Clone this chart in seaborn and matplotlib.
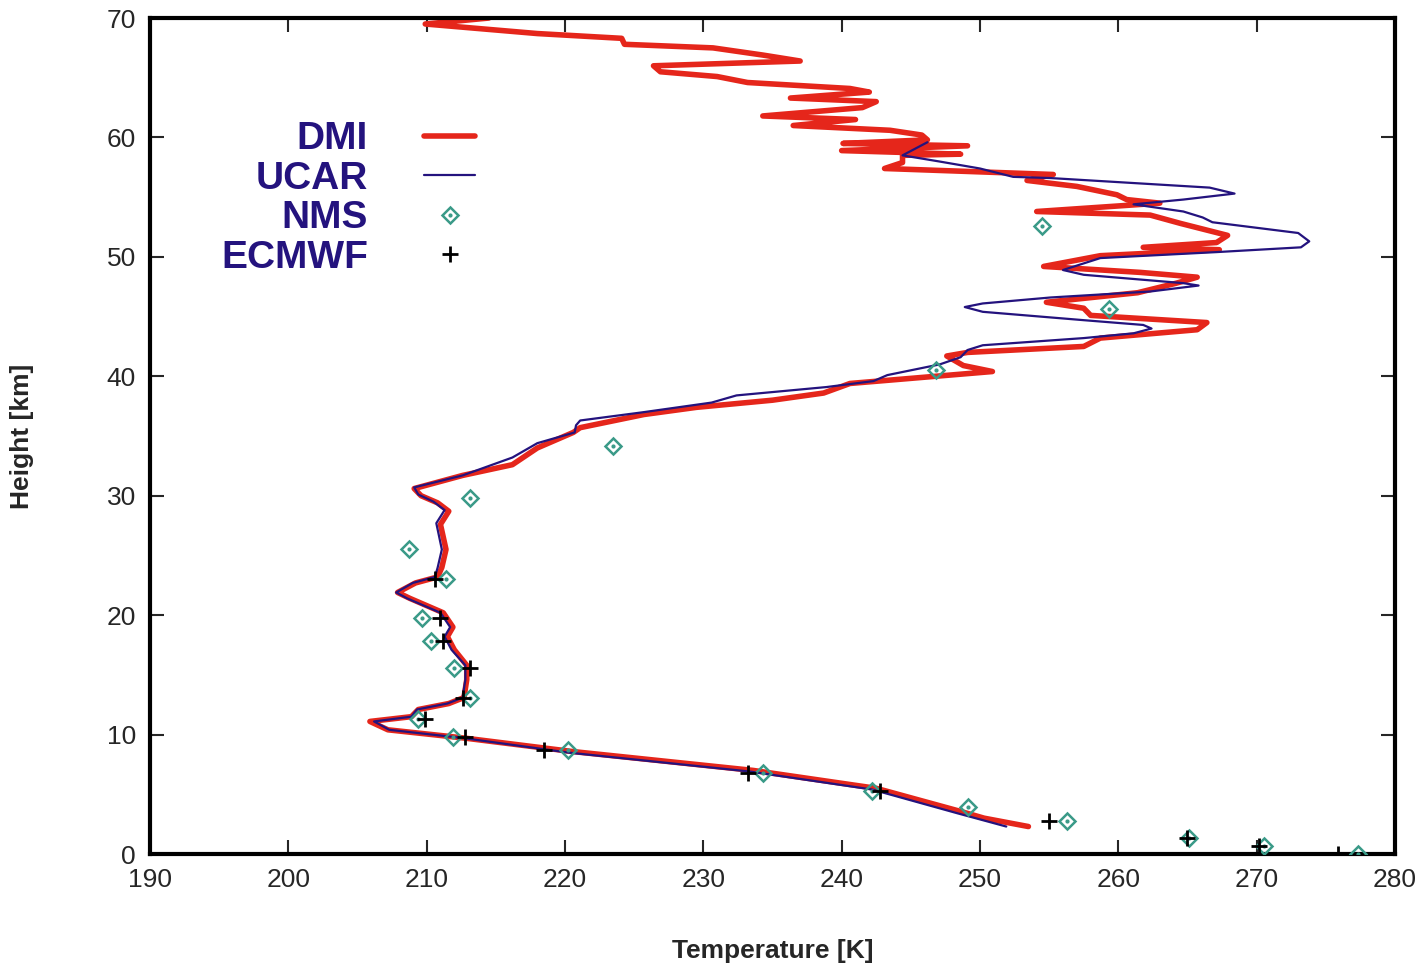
import numpy as np
import pandas as pd
import seaborn as sns
import matplotlib.pyplot as plt
from matplotlib.lines import Line2D

# DMI profile (temperature K, height km)
dmi_t = [214.5, 209.9, 218.0, 224.1, 224.3, 230.7, 234.3, 237.0, 226.4, 226.9, 231.0, 233.2,
         240.6, 242.0, 236.3, 242.5, 241.5, 234.3, 241.0, 236.5, 243.5, 245.8, 246.2, 240.1,
         249.1, 240.0, 248.6, 244.4, 244.4, 243.1, 255.3, 253.4, 257.0, 259.9, 260.6, 263.0,
         254.1, 262.3, 264.5, 267.9, 267.1, 261.8, 267.3, 258.7, 254.6, 261.6, 265.7, 264.2,
         261.4, 254.8, 257.5, 258.0, 266.4, 265.7, 258.7, 257.5, 249.1, 247.6, 248.8, 250.9,
         247.8, 240.6, 238.7, 235.0, 229.5, 225.7, 221.1, 220.6, 218.0, 216.2, 212.6, 209.1,
         209.6, 210.8, 211.6, 211.0, 211.4, 211.1, 210.8, 209.2, 207.9, 208.8, 211.2, 211.9,
         211.5, 212.0, 212.9, 212.9, 212.7, 211.6, 209.4, 208.9, 205.9, 207.2, 212.8, 220.4,
         233.6, 242.5, 248.8, 250.3, 253.5]
dmi_h = [70.0, 69.5, 68.7, 68.3, 67.8, 67.5, 66.9, 66.4, 66.0, 65.5, 65.1, 64.6,
         64.1, 63.8, 63.3, 63.0, 62.5, 61.8, 61.5, 61.0, 60.6, 60.2, 59.8, 59.5,
         59.3, 58.9, 58.6, 58.5, 57.9, 57.4, 56.9, 56.4, 55.9, 55.2, 54.8, 54.5,
         53.8, 53.5, 52.8, 51.8, 51.2, 50.8, 50.6, 50.1, 49.2, 48.7, 48.3, 47.8,
         47.0, 46.2, 45.7, 45.1, 44.5, 43.9, 43.2, 42.5, 42.0, 41.7, 40.9, 40.4,
         40.1, 39.4, 38.6, 38.0, 37.4, 36.8, 35.7, 35.3, 34.0, 32.6, 31.7, 30.6,
         30.0, 29.4, 28.7, 27.6, 25.5, 24.0, 23.2, 22.7, 21.9, 21.4, 20.2, 19.0,
         18.2, 17.1, 15.8, 14.6, 13.1, 12.6, 12.1, 11.5, 11.1, 10.4, 9.7, 8.6,
         7.0, 5.5, 3.5, 3.0, 2.3]

# UCAR profile
ucar_t = [246.2, 244.4, 247.0, 250.0, 252.4, 255.1, 266.6, 268.4, 264.7, 261.1, 264.7, 266.1,
          266.8, 273.0, 273.8, 273.2, 267.1, 258.7, 256.0, 257.5, 264.7, 265.8, 262.3, 255.1,
          250.2, 248.9, 250.2, 257.5, 261.8, 262.4, 261.1, 257.5, 250.2, 249.1, 248.6, 247.1,
          243.3, 242.3, 238.9, 232.4, 230.6, 225.7, 221.1, 220.8, 220.7, 218.0, 216.2, 212.6,
          209.1, 209.4, 210.5, 211.3, 210.7, 211.1, 210.8, 210.6, 209.0, 207.8, 208.6, 211.0,
          211.7, 211.3, 211.8, 212.8, 212.8, 212.6, 211.5, 209.3, 208.9, 206.2, 207.3, 212.7,
          220.2, 233.4, 242.2, 248.4, 251.9]
ucar_h = [59.6, 58.5, 58.0, 57.4, 56.7, 56.6, 55.8, 55.3, 54.8, 54.4, 53.8, 53.3,
          52.9, 52.0, 51.3, 50.8, 50.4, 49.9, 48.9, 48.5, 47.8, 47.6, 47.1, 46.6,
          46.1, 45.8, 45.4, 44.7, 44.3, 44.0, 43.6, 43.2, 42.6, 42.2, 41.6, 41.0,
          40.1, 39.6, 39.1, 38.4, 37.8, 37.0, 36.3, 35.9, 35.3, 34.4, 33.2, 31.7,
          30.7, 30.1, 29.5, 28.8, 27.7, 25.5, 24.0, 23.2, 22.7, 21.9, 21.4, 20.2,
          19.0, 18.2, 17.1, 15.8, 14.6, 13.1, 12.6, 12.1, 11.5, 11.1, 10.4, 9.7,
          8.5, 6.9, 5.4, 3.4, 2.3]

# NMS radiosonde points
nms_t = [254.5, 259.3, 246.8, 223.5, 213.1, 208.7, 211.4, 209.7, 210.3, 212.0, 213.1, 209.4,
         211.9, 220.2, 234.3, 242.2, 249.1, 256.3, 265.1, 270.5, 277.3]
nms_h = [52.6, 45.6, 40.5, 34.2, 29.8, 25.5, 23.0, 19.8, 17.8, 15.6, 13.1, 11.3,
         9.8, 8.7, 6.8, 5.3, 3.9, 2.8, 1.3, 0.67, 0.0]

# ECMWF analysis points
ecm_t = [210.6, 211.0, 211.2, 213.1, 212.6, 209.9, 212.8, 218.5, 233.2, 242.8, 255.0, 265.0,
         270.2, 275.9]
ecm_h = [23.0, 19.8, 17.8, 15.6, 13.1, 11.3, 9.8, 8.7, 6.8, 5.3, 2.8, 1.3, 0.67, 0.0]

dmi = pd.DataFrame({'T': dmi_t, 'h': dmi_h})
ucar = pd.DataFrame({'T': ucar_t, 'h': ucar_h})
nms = pd.DataFrame({'T': nms_t, 'h': nms_h})
ecm = pd.DataFrame({'T': ecm_t, 'h': ecm_h})

sns.set_style('ticks')
plt.rcParams['font.family'] = ['Liberation Sans', 'DejaVu Sans']

red = '#e5261b'
navy = '#24137e'
teal = '#3a9a88'

fig = plt.figure(figsize=(14.2, 9.64), dpi=100)
ax = fig.add_axes([0.1056, 0.1141, 0.8768, 0.8672])

sns.lineplot(data=dmi, x='T', y='h', sort=False, estimator=None, color=red,
             linewidth=4, ax=ax, zorder=2)
sns.lineplot(data=ucar, x='T', y='h', sort=False, estimator=None, color=navy,
             linewidth=1.6, ax=ax, zorder=3)
ax.plot(nms['T'], nms['h'], linestyle='none', marker='D', markersize=8,
        markerfacecolor='none', markeredgecolor=teal, markeredgewidth=1.8, zorder=4)
ax.plot(nms['T'], nms['h'], linestyle='none', marker='o', markersize=2,
        color=teal, zorder=4)
ax.plot(ecm['T'], ecm['h'], linestyle='none', marker='+', markersize=12,
        markeredgewidth=2, color='black', zorder=5)

ax.set_xlim(190, 280)
ax.set_ylim(0, 70)
ax.set_xticks(np.arange(190, 281, 10))
ax.set_yticks(np.arange(0, 71, 10))
ax.tick_params(direction='in', length=10, width=1.5, labelsize=19, pad=10,
               top=True, right=True)
for s in ax.spines.values():
    s.set_linewidth(3)
    s.set_color('black')

ax.set_xlabel('Temperature [K]', fontsize=19, fontweight='bold', labelpad=34)
ax.set_ylabel('Height [km]', fontsize=19, fontweight='bold', labelpad=52)

# legend: labels on the left, keys on the right
h_dmi = Line2D([], [], color=red, linewidth=4)
h_ucar = Line2D([], [], color=navy, linewidth=1.6)
h_nms = (Line2D([], [], linestyle='none', marker='D', markersize=8, markerfacecolor='none',
                markeredgecolor=teal, markeredgewidth=1.8),
         Line2D([], [], linestyle='none', marker='o', markersize=2, color=teal))
h_ecm = Line2D([], [], linestyle='none', marker='+', markersize=12, markeredgewidth=2,
               color='black')
leg = ax.legend([h_dmi, h_ucar, h_nms, h_ecm], ['DMI', 'UCAR', 'NMS', 'ECMWF'],
                loc='center', bbox_to_anchor=(0.159, 0.784), frameon=False,
                markerfirst=False, handlelength=1.3, handletextpad=1.45,
                labelspacing=0.09, prop={'size': 28, 'weight': 'bold'})
for t in leg.get_texts():
    t.set_color(navy)
    t.set_ha('right')

fig.savefig('out.png', dpi=100)
